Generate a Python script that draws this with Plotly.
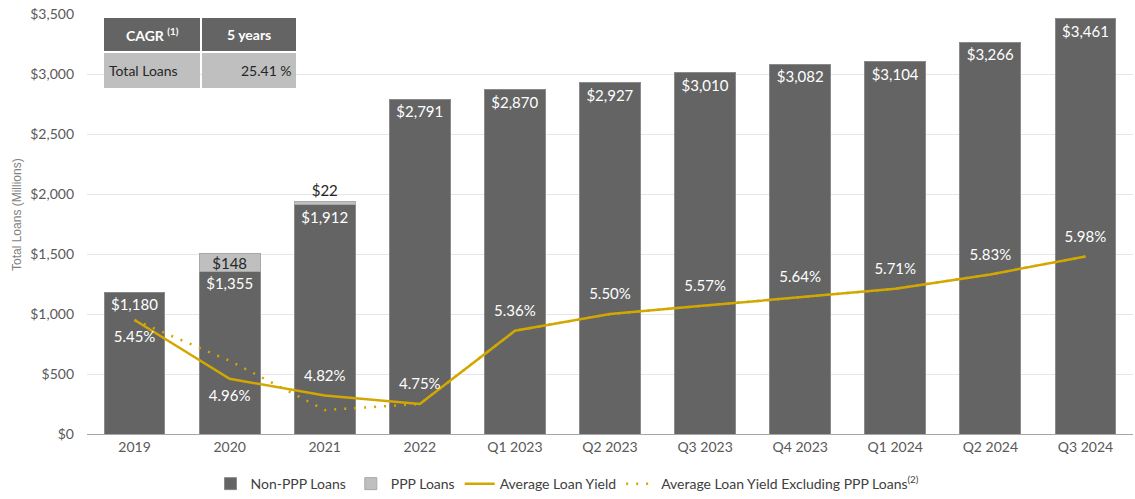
import plotly.graph_objects as go

# ---------------- data ----------------
categories = ["2019", "2020", "2021", "2022", "Q1 2023", "Q2 2023", "Q3 2023",
              "Q4 2023", "Q1 2024", "Q2 2024", "Q3 2024"]
non_ppp_loans = [1180, 1355, 1912, 2791, 2870, 2927, 3010, 3082, 3104, 3266, 3461]
ppp_loans = [None, 148, 22, None, None, None, None, None, None, None, None]
avg_loan_yield = [5.45, 4.96, 4.82, 4.75, 5.36, 5.50, 5.57, 5.64, 5.71, 5.83, 5.98]
avg_yield_ex_ppp = [5.45, 5.11, 4.70, 4.75, 5.36, 5.50, 5.57, 5.64, 5.71, 5.83, 5.98]
yield_label_pos = ["bottom center", "bottom center"] + ["top center"] * 9
ppp_label_pos = ["inside", "inside", "outside"] + ["inside"] * 8
y_ticks = [0, 500, 1000, 1500, 2000, 2500, 3000, 3500]
y_tick_labels = ["$0", "$500", "$1,000", "$1,500", "$2,000", "$2,500", "$3,000", "$3,500"]
table_header = ["CAGR <sup>(1)</sup>", "5 years"]
table_row = ["Total Loans", "25.41 %"]
series_names = ["Non-PPP Loans", "PPP Loans", "Average Loan Yield",
                "Average Loan Yield Excluding PPP Loans<sup>(2)</sup>"]

# ---------------- styles ----------------
FONT = "Lato"
DARK = "#646464"
LIGHT = "#bfbfbf"
GOLD = "#D2A800"
TXT = "#404040"

W, H = 1135, 499
ML, MR, MT, MB = 87, 2, 14, 65
PW, PH = W - ML - MR, H - MT - MB


def px_x(p):
    return (p - ML) / PW


def px_y(p):
    return (H - MB - p) / PH


fig = go.Figure()

fig.add_trace(go.Bar(
    x=categories, y=non_ppp_loans, name=series_names[0],
    marker=dict(color=DARK, line=dict(color="#8a8a8a", width=1)),
    text=[f"${v:,}" for v in non_ppp_loans],
    textposition="inside", insidetextanchor="end", constraintext="none",
    textfont=dict(family=FONT, size=15, color="white"),
))

fig.add_trace(go.Bar(
    x=categories, y=ppp_loans, name=series_names[1],
    marker=dict(color=LIGHT, line=dict(color="#a8a8a8", width=1)),
    text=[f"${v:,}" if v else "" for v in ppp_loans],
    textposition=ppp_label_pos, insidetextanchor="middle", constraintext="none",
    textfont=dict(family=FONT, size=15, color="#262626"),
    cliponaxis=False,
))

fig.add_trace(go.Scatter(
    x=categories, y=avg_loan_yield, name=series_names[2], yaxis="y2",
    mode="lines", line=dict(color=GOLD, width=2.5),
))

fig.add_trace(go.Scatter(
    x=categories, y=avg_yield_ex_ppp, name=series_names[3], yaxis="y2",
    mode="lines", line=dict(color=GOLD, width=2.5, dash="2px,8px"),
))

fig.add_trace(go.Scatter(
    x=categories, y=avg_loan_yield, yaxis="y2", showlegend=False,
    mode="markers+text", marker=dict(size=16, opacity=0),
    text=[f"{v:.2f}%" for v in avg_loan_yield], textposition=yield_label_pos,
    textfont=dict(family=FONT, size=15, color="white"), hoverinfo="skip",
    cliponaxis=False,
))

# ---------------- CAGR table ----------------
col_edges = [(104, 200), (202, 296)]
row_edges = [(18, 51), (53, 88)]
for i, (x0, x1) in enumerate(col_edges):
    for j, (y0, y1) in enumerate(row_edges):
        fig.add_shape(type="rect", xref="paper", yref="paper",
                      x0=px_x(x0), x1=px_x(x1), y0=px_y(y1), y1=px_y(y0),
                      fillcolor=DARK if j == 0 else LIGHT, line=dict(width=0), layer="above")
for i, t in enumerate(table_header):
    x0, x1 = col_edges[i]
    y0, y1 = row_edges[0]
    fig.add_annotation(xref="paper", yref="paper", x=px_x((x0 + x1) / 2), y=px_y((y0 + y1) / 2),
                       xanchor="center", yanchor="middle",
                       text=f"<b>{t}</b>", showarrow=False,
                       font=dict(family=FONT, size=14, color="white"))
x0, x1 = col_edges[0]
y0, y1 = row_edges[1]
fig.add_annotation(xref="paper", yref="paper", x=px_x(x0 + 3), y=px_y((y0 + y1) / 2),
                   xanchor="left", yanchor="middle", text=table_row[0], showarrow=False,
                   font=dict(family=FONT, size=14, color="#262626"))
x0, x1 = col_edges[1]
fig.add_annotation(xref="paper", yref="paper", x=px_x(x1 - 2), y=px_y((y0 + y1) / 2),
                   xanchor="right", yanchor="middle", text=table_row[1], showarrow=False,
                   font=dict(family=FONT, size=14, color="#262626"))

# y axis title
fig.add_annotation(xref="paper", yref="paper", x=px_x(17), y=px_y(215),
                   xanchor="center", yanchor="middle",
                   text="Total Loans (Millions)", textangle=-90, showarrow=False,
                   font=dict(family="Liberation Sans", size=12, color="#7f7f7f"))

fig.update_layout(
    width=W, height=H,
    margin=dict(l=ML, r=MR, t=MT, b=MB, autoexpand=False),
    barmode="stack", bargap=0.36,
    plot_bgcolor="white", paper_bgcolor="white",
    font=dict(family=FONT, size=14, color=TXT),
    xaxis=dict(range=[-0.5, len(categories) - 0.5], autorange=False,
               showline=True, linecolor="#a6a6a6", linewidth=1, ticks="",
               tickfont=dict(family=FONT, size=14, color="#595959"), showgrid=False,
               automargin=False),
    yaxis=dict(range=[0, 3500], tickvals=y_ticks, ticktext=y_tick_labels,
               showgrid=True, gridcolor="#e6e6e6", zeroline=False,
               tickfont=dict(family=FONT, size=14, color="#595959"),
               ticklabelstandoff=12, automargin=False),
    yaxis2=dict(range=[4.5, 8.0], overlaying="y", visible=False),
    legend=dict(orientation="h", xref="container", yref="container",
                x=0.5, xanchor="center", y=0.03, yanchor="middle",
                font=dict(family=FONT, size=14, color=TXT),
                itemwidth=30, traceorder="normal"),
    showlegend=True,
)

fig.write_html("out.html", config={"displayModeBar": False},
               post_script="document.body.style.margin='0';")
